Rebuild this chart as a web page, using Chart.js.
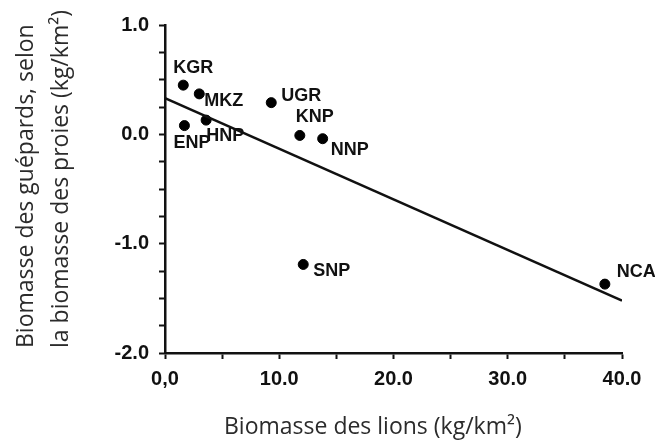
<!DOCTYPE html>
<html lang="fr">
<head>
  <meta charset="UTF-8">
  <title>Biomasse des guépards et des lions</title>
  <style>
    body {
      margin: 0;
      padding: 0;
      background-color: #fff;
    }
    .chart-container {
      width: 655px;
      height: 445px;
    }
  </style>
  <script src="https://cdn.jsdelivr.net/npm/chart.js"></script>
</head>
<body>
  <div class="chart-container">
    <canvas id="cheetah-chart"></canvas>
  </div>

  <script>
    // sites and their values
    const siteNames = ['KGR', 'MKZ', 'ENP', 'HNP', 'UGR', 'KNP', 'NNP', 'SNP', 'NCA'];
    const lionBiomass = [1.6, 3.0, 1.7, 3.6, 9.3, 11.8, 13.8, 12.1, 38.5];
    const cheetahBiomass = [0.45, 0.37, 0.08, 0.13, 0.29, -0.01, -0.04, -1.19, -1.37];

    // regression line end points
    const fitX = [0, 40];
    const fitY = [0.33, -1.52];

    const xTitle = 'Biomasse des lions (kg/km²)';
    const yTitle = ['Biomasse des guépards, selon', 'la biomasse des proies (kg/km²)'];

    // where each site label sits relative to its dot (px)
    const labelOffsets = {
      KGR: [-10, -17], MKZ: [5, 7], ENP: [-11, 17], HNP: [0, 16], UGR: [10, -7],
      KNP: [-4, -18], NNP: [8, 11], SNP: [10, 7], NCA: [12, -12]
    };

    const tickFont = { family: "'Liberation Sans', Arial, sans-serif", size: 20, weight: 'bold' };

    const siteLabels = {
      id: 'siteLabels',
      afterDatasetsDraw(chart) {
        const ctx = chart.ctx;
        const meta = chart.getDatasetMeta(1);
        ctx.save();
        ctx.font = "bold 18px 'Liberation Sans', Arial, sans-serif";
        ctx.fillStyle = '#111';
        ctx.textAlign = 'left';
        ctx.textBaseline = 'middle';
        meta.data.forEach((pt, i) => {
          const off = labelOffsets[siteNames[i]];
          ctx.fillText(siteNames[i], pt.x + off[0], pt.y + off[1]);
        });
        ctx.restore();
      }
    };

    const axisTitles = {
      id: 'axisTitles',
      afterDraw(chart) {
        const ctx = chart.ctx;
        ctx.save();
        ctx.font = "23px 'Open Sans', sans-serif";
        ctx.fillStyle = '#2b2b2b';
        ctx.textBaseline = 'alphabetic';
        ctx.textAlign = 'left';
        ctx.fillText(xTitle, 224, 434);
        ctx.translate(0, 348);
        ctx.rotate(-Math.PI / 2);
        ctx.fillText(yTitle[0], 0, 33);
        ctx.fillText(yTitle[1], 0, 68);
        ctx.restore();
      }
    };

    const ctx = document.getElementById('cheetah-chart').getContext('2d');
    new Chart(ctx, {
      type: 'scatter',
      data: {
        datasets: [
          {
            type: 'line',
            data: fitX.map((x, i) => ({ x: x, y: fitY[i] })),
            borderColor: '#111',
            borderWidth: 2.5,
            pointRadius: 0,
            fill: false
          },
          {
            data: lionBiomass.map((x, i) => ({ x: x, y: cheetahBiomass[i] })),
            backgroundColor: '#000',
            borderColor: '#000',
            pointRadius: 5
          }
        ]
      },
      options: {
        responsive: true,
        maintainAspectRatio: false,
        animation: false,
        layout: { padding: { top: 25, right: 33, left: 0, bottom: 0 } },
        plugins: {
          legend: { display: false },
          tooltip: { enabled: false }
        },
        scales: {
          x: {
            type: 'linear',
            min: 0,
            max: 40,
            afterFit(scale) { scale.height = 92; },
            border: { display: true, color: '#111', width: 2.5 },
            grid: { drawOnChartArea: false, color: '#111', tickLength: 6, tickWidth: 2 },
            ticks: {
              stepSize: 5,
              autoSkip: false,
              maxRotation: 0,
              padding: 8,
              color: '#111',
              font: tickFont,
              callback: v => v % 10 !== 0 ? '' : (v === 0 ? '0,0' : v.toFixed(1))
            }
          },
          y: {
            min: -2,
            max: 1,
            afterFit(scale) { scale.width = 165; },
            border: { display: true, color: '#111', width: 2.5 },
            grid: { drawOnChartArea: false, color: '#111', tickLength: 6, tickWidth: 2 },
            ticks: {
              stepSize: 0.25,
              autoSkip: false,
              padding: 10,
              color: '#111',
              font: tickFont,
              callback: v => v % 1 !== 0 ? '' : v.toFixed(1)
            }
          }
        }
      },
      plugins: [siteLabels, axisTitles]
    });
  </script>
</body>
</html>
